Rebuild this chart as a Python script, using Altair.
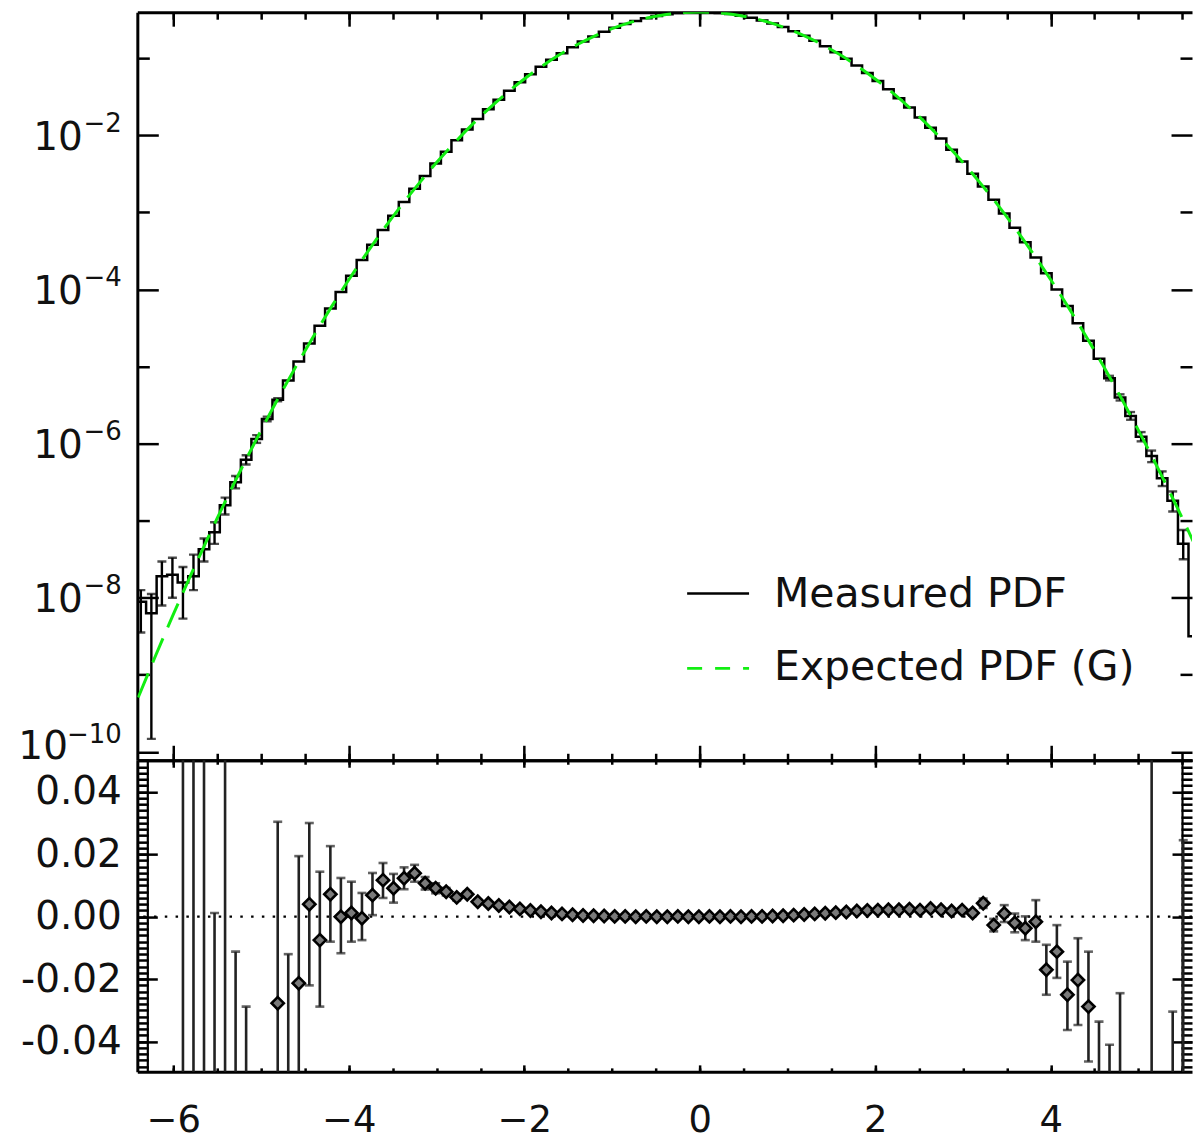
import altair as alt
import numpy as np
import pandas as pd

FONT = "DejaVu Sans"
GREEN = "#12ee12"

# ---------------- data ----------------
# histogram bin centres: start + width * i  (i = 0 .. 101)
BIN_START = -6.49
BIN_WIDTH = 0.12

# measured PDF, log10, bins k = -1 .. 100
measured_log = [
    -8.20, -8.05, -8.20, -7.72, -7.70, -7.80, -7.72, -7.37, -7.15, -6.80,
    -6.50, -6.21, -5.94, -5.68, -5.43, -5.18, -4.935, -4.70, -4.47, -4.248,
    -4.031, -3.822, -3.618, -3.420, -3.229, -3.044, -2.865, -2.693, -2.526, -2.366,
    -2.213, -2.065, -1.924, -1.789, -1.660, -1.538, -1.422, -1.312, -1.208, -1.110,
    -1.019, -0.934, -0.856, -0.783, -0.717, -0.657, -0.603, -0.556, -0.515, -0.480,
    -0.451, -0.429, -0.413, -0.403, -0.399, -0.402, -0.411, -0.426, -0.447, -0.475,
    -0.509, -0.549, -0.595, -0.648, -0.707, -0.772, -0.843, -0.921, -1.005, -1.095,
    -1.191, -1.294, -1.403, -1.518, -1.639, -1.767, -1.901, -2.041, -2.188, -2.340,
    -2.499, -2.665, -2.836, -3.014, -3.198, -3.388, -3.584, -3.790, -4.000, -4.215,
    -4.437, -4.665, -4.900, -5.150, -5.400, -5.640, -5.910, -6.160, -6.450, -6.740,
    -7.300, -8.500,
]

# error bars on the measured PDF (log10), by bin k
top_err_bin = [0, 1, 2, 3, 4, 5, 6, 7, 8, 9, 10, 11, 12, 13,
               92, 93, 94, 95, 96, 97, 98, 99]
top_err_lo = [-8.45, -9.83, -8.10, -8.00, -8.27, -7.90, -7.53, -7.30, -6.92, -6.58,
              -6.27, -5.99, -5.71, -5.45,
              -5.18, -5.44, -5.69, -5.97, -6.24, -6.55, -6.88, -7.50]
top_err_hi = [-7.90, -7.95, -7.53, -7.48, -7.60, -7.44, -7.23, -7.02, -6.70, -6.42,
              -6.15, -5.89, -5.65, -5.41,
              -5.12, -5.36, -5.59, -5.85, -6.09, -6.36, -6.62, -7.12]

# expected (Gaussian) PDF, log10
expected_x = [-6.4, -6.2, -6.0, -5.8, -5.6, -5.4, -5.2, -5.0, -4.8, -4.6, -4.4, -4.2,
              -4.0, -3.8, -3.6, -3.4, -3.2, -3.0, -2.8, -2.6, -2.4, -2.2, -2.0, -1.8,
              -1.6, -1.4, -1.2, -1.0, -0.8, -0.6, -0.4, -0.2, 0.0, 0.2, 0.4, 0.6,
              0.8, 1.0, 1.2, 1.4, 1.6, 1.8, 2.0, 2.2, 2.4, 2.6, 2.8, 3.0,
              3.2, 3.4, 3.6, 3.8, 4.0, 4.2, 4.4, 4.6, 4.8, 5.0, 5.2, 5.4, 5.6, 5.8]
expected_log = [-9.293, -8.746, -8.216, -7.704, -7.209, -6.731, -6.271, -5.828, -5.402,
                -4.994, -4.603, -4.229, -3.873, -3.535, -3.213, -2.909, -2.623, -2.353,
                -2.102, -1.867, -1.650, -1.450, -1.268, -1.103, -0.955, -0.825, -0.712,
                -0.616, -0.538, -0.477, -0.434, -0.408, -0.399, -0.408, -0.434, -0.477,
                -0.538, -0.616, -0.712, -0.825, -0.955, -1.103, -1.268, -1.450, -1.650,
                -1.867, -2.102, -2.353, -2.623, -2.909, -3.213, -3.535, -3.873, -4.229,
                -4.603, -4.994, -5.402, -5.828, -6.271, -6.731, -7.209, -7.704]

# residuals, bins k = 0 .. 100
res_val = [
    None, None, None, None,
    0.2, 0.1, -0.1, -0.09, 0.08, -0.08, -0.09,
    None, None,
    -0.0277, -0.07, -0.0213, 0.004, -0.0075, 0.0072, 0.0, 0.0012, -0.0005,
    0.0069, 0.0117, 0.0091, 0.0123, 0.0139, 0.0107, 0.0091, 0.008, 0.0062, 0.0072,
    0.0048, 0.0042, 0.0036, 0.0031, 0.0025, 0.0020, 0.0016, 0.0012, 0.0009, 0.0006,
    0.0004, 0.0003, 0.0002, 0.0001, 0.0001, 0.0, 0.0001, 0.0, 0.0, 0.0001,
    0.0, 0.0, 0.0001, 0.0, 0.0001, 0.0, 0.0001, 0.0001, 0.0002, 0.0003,
    0.0005, 0.0007, 0.0009, 0.0011, 0.0013, 0.0015, 0.0018, 0.0020, 0.0021, 0.0022,
    0.0022, 0.0024, 0.0021, 0.0026, 0.0022, 0.0018, 0.0021, 0.0012, 0.0043, -0.0027,
    0.0010, -0.0020, -0.0037, -0.0016, -0.017, -0.0112, -0.025, -0.0203, -0.0288, -0.07,
    -0.08, -0.075, None, None, 0.1, None, -0.1, -0.08, None,
]
res_err_bin = [4, 5, 6, 7, 8, 9, 10, 13, 14, 15, 16, 17, 18, 19, 20, 21, 22, 23, 24,
               25, 26, 27, 28, 29, 30, 31, 32, 33,
               79, 80, 81, 82, 83, 84, 85, 86, 87, 88, 89, 90, 91, 92, 93, 96, 98, 99]
res_err_lo = [-0.3, -0.4, -0.5, -0.2, -0.2, -0.15, -0.15, -0.086, -0.128, -0.062,
              -0.022, -0.0288, -0.008, -0.0117, -0.008, -0.0075, 0.0005, 0.006, 0.0045,
              0.0088, 0.0112, 0.0087, 0.0075, 0.0068, 0.0052, 0.0063, 0.0041, 0.0036,
              0.0004, 0.0028, -0.0047, -0.0017, -0.005, -0.0075, -0.008, -0.025, -0.0196,
              -0.0363, -0.0347, -0.0464, -0.11, -0.12, -0.125, -0.5, -0.2, -0.2]
res_err_hi = [0.7, 0.6, 0.3, 0.0012, 0.3, -0.0112, -0.0288, 0.0304, -0.012, 0.0194,
              0.030, 0.0144, 0.0226, 0.0124, 0.0112, 0.0076, 0.014, 0.0172, 0.0137,
              0.0158, 0.0166, 0.0127, 0.0107, 0.0092, 0.0072, 0.0081, 0.0055, 0.0048,
              0.002, 0.0058, -0.0007, 0.0037, 0.001, 0.0001, 0.0053, -0.009, -0.0027,
              -0.0144, -0.0069, -0.0112, -0.0336, -0.041, -0.0245, 0.5, -0.0304, 0.0245]

legend_labels = ["Measured PDF", "Expected PDF (G)"]

x_major = [-6, -4, -2, 0, 2, 4]
x_minor = [-6.0, -5.5, -5.0, -4.5, -4.0, -3.5, -3.0, -2.5, -2.0, -1.5, -1.0, -0.5,
           0.0, 0.5, 1.0, 1.5, 2.0, 2.5, 3.0, 3.5, 4.0, 4.5, 5.0, 5.5]
top_major = [1e-10, 1e-8, 1e-6, 1e-4, 1e-2]
top_minor = [1e-9, 1e-7, 1e-5, 1e-3, 1e-1]
top_exponents = ["−10", "−8", "−6", "−4", "−2"]
bot_major = [-0.04, -0.02, 0.0, 0.02, 0.04]
bot_minor = [round(-0.048 + 0.002 * i, 3) for i in range(50)]

# ---------------- frames ----------------
bin_x = np.round(BIN_START + BIN_WIDTH * np.arange(len(measured_log)), 3)
df_meas = pd.DataFrame({"x": bin_x, "meas": np.power(10.0, measured_log)})
df_exp = pd.DataFrame({"x": expected_x, "exp": np.power(10.0, expected_log)})
df_terr = pd.DataFrame({
    "x": [bin_x[k + 1] for k in top_err_bin],
    "lo": np.power(10.0, top_err_lo),
    "hi": np.power(10.0, top_err_hi),
})
df_res = pd.DataFrame({"x": bin_x[1:], "r": res_val}).dropna()
df_rerr = pd.DataFrame({
    "x": [bin_x[k + 1] for k in res_err_bin],
    "lo": res_err_lo,
    "hi": res_err_hi,
})

# ---------------- geometry ----------------
W, H_TOP, H_BOT = 1056, 749, 312
XDOM = [-6.41, 5.61]
xs = alt.Scale(domain=XDOM, nice=False, zero=False)
ys_top = alt.Scale(type="log", domain=[10 ** -10.108, 10 ** -0.402], nice=False)
ys_bot = alt.Scale(domain=[-0.0497, 0.0501], nice=False, zero=False)


def tick_axis(orient, offset, values, size, domain=False, dwidth=3):
    return alt.Axis(orient=orient, offset=offset, values=values, tickSize=size,
                    tickWidth=2.5, tickColor="black", labels=False, domain=domain,
                    domainWidth=dwidth, domainColor="black", grid=False, title=None)


def label_axis(values, expr, pad, size, offset=0, domain=False, extent=None):
    kw = {}
    if extent is not None:
        kw = {"minExtent": extent, "maxExtent": extent}
    return alt.Axis(orient="left", values=values, tickSize=0, labelPadding=pad,
                    labelFont=FONT, labelFontSize=size, labelColor="#111",
                    labelExpr=expr, labelOffset=offset, domain=domain, domainWidth=3,
                    domainColor="black", grid=False, title=None, labelFlush=False,
                    labelOverlap=False, **kw)


exp_expr = ("datum.value < 1e-7 ? '%s' : "
            "datum.value < 1e-5 ? '%s' : datum.value < 1e-3 ? '%s' : '%s'"
            % tuple(top_exponents[1:]))
sup_axis = label_axis(top_major[1:], exp_expr, 16, 26, offset=-12, domain=True, extent=130)
sup_axis10 = label_axis(top_major[:1], "'%s'" % top_exponents[0], 16, 26, offset=-17)
base_axis = label_axis(top_major[1:], "'10'", 55, 39, offset=2)
base_axis10 = label_axis(top_major[:1], "'10'", 70, 39, offset=-5)

bot_label_axis = label_axis(
    bot_major,
    "datum.value < -0.001 ? '-' + format(-datum.value, '.2f') : format(abs(datum.value), '.2f')",
    16, 39, domain=True, extent=130)
x_label_axis = alt.Axis(orient="bottom", values=x_major, format="d", tickSize=0,
                        labelPadding=31, labelFont=FONT, labelFontSize=37,
                        labelColor="#111", domain=True, domainWidth=3,
                        domainColor="black", grid=False, title=None, labelFlush=False,
                        labelOverlap=False)

# ---------------- top panel ----------------
meas_line = alt.Chart(df_meas).mark_line(
    interpolate="step", color="black", strokeWidth=2.5, clip=True
).encode(
    x=alt.X("x:Q", scale=xs, axis=tick_axis("top", -H_TOP, x_major, 15, domain=True)),
    y=alt.Y("meas:Q", scale=ys_top, axis=tick_axis("right", -W, top_major, 21)),
)
terr_rule = alt.Chart(df_terr).mark_rule(color="black", strokeWidth=2.4, clip=True).encode(
    x=alt.X("x:Q", scale=xs, axis=tick_axis("bottom", -H_TOP, x_minor, 7)),
    y=alt.Y("lo:Q", scale=ys_top, axis=tick_axis("right", -W, top_minor, 12)),
    y2="hi:Q",
)
terr_lo = alt.Chart(df_terr).mark_tick(
    orient="horizontal", color="black", size=9, thickness=2.4, clip=True
).encode(
    x=alt.X("x:Q", scale=xs, axis=tick_axis("top", -H_TOP, x_minor, 7)),
    y=alt.Y("lo:Q", scale=ys_top, axis=tick_axis("left", -W, top_major, 21)),
)
terr_hi = alt.Chart(df_terr).mark_tick(
    orient="horizontal", color="black", size=9, thickness=2.4, clip=True
).encode(
    x=alt.X("x:Q", scale=xs, axis=None),
    y=alt.Y("hi:Q", scale=ys_top, axis=tick_axis("left", -W, top_minor, 12)),
)
exp_line = alt.Chart(df_exp).mark_line(
    color=GREEN, strokeWidth=3, strokeDash=[26, 12], clip=True, interpolate="monotone"
).encode(
    x=alt.X("x:Q", scale=xs, axis=tick_axis("bottom", -H_TOP, x_major, 14, domain=True)),
    y=alt.Y("exp:Q", scale=ys_top, axis=sup_axis),
)
ghost_top1 = alt.Chart(df_exp).mark_point(opacity=0, size=1, clip=True).encode(
    x=alt.X("x:Q", scale=xs, axis=None),
    y=alt.Y("exp:Q", scale=ys_top, axis=base_axis),
)
ghost_top2 = alt.Chart(df_exp).mark_point(opacity=0, size=1, clip=True).encode(
    x=alt.X("x:Q", scale=xs, axis=None),
    y=alt.Y("exp:Q", scale=ys_top, axis=base_axis10),
)
ghost_top3 = alt.Chart(df_exp).mark_point(opacity=0, size=1, clip=True).encode(
    x=alt.X("x:Q", scale=xs, axis=None),
    y=alt.Y("exp:Q", scale=ys_top, axis=sup_axis10),
)

leg1_df = pd.DataFrame({"t": [legend_labels[0]]})
leg2_df = pd.DataFrame({"t": [legend_labels[1]]})
leg1_line = alt.Chart(leg1_df).mark_rule(color="black", strokeWidth=2.5).encode(
    x=alt.value(550.5), x2=alt.value(612.5), y=alt.value(582))
leg2_line = alt.Chart(leg2_df).mark_rule(color=GREEN, strokeWidth=3, strokeDash=[15, 13]).encode(
    x=alt.value(550.5), x2=alt.value(612.5), y=alt.value(657))
leg1_text = alt.Chart(leg1_df).mark_text(
    font=FONT, fontSize=41, color="#111", align="left", baseline="alphabetic"
).encode(text="t:N", x=alt.value(637.5), y=alt.value(596))
leg2_text = alt.Chart(leg2_df).mark_text(
    font=FONT, fontSize=41, color="#111", align="left", baseline="alphabetic"
).encode(text="t:N", x=alt.value(637.5), y=alt.value(669))

top = alt.layer(
    meas_line, terr_rule, terr_lo, terr_hi, exp_line, ghost_top1, ghost_top2, ghost_top3,
    leg1_line, leg2_line, leg1_text, leg2_text,
).resolve_axis(x="independent", y="independent").properties(width=W, height=H_TOP)

# ---------------- bottom panel ----------------
zero_line = alt.Chart(pd.DataFrame({"z": [0.0]})).mark_rule(
    color="black", strokeWidth=2.2, strokeDash=[2.5, 8.3]
).encode(y=alt.Y("z:Q", scale=ys_bot, axis=None))
rerr_rule = alt.Chart(df_rerr).mark_rule(color="#222", strokeWidth=2.6, clip=True).encode(
    x=alt.X("x:Q", scale=xs, axis=x_label_axis),
    y=alt.Y("lo:Q", scale=ys_bot, axis=bot_label_axis),
    y2="hi:Q",
)
rerr_lo = alt.Chart(df_rerr).mark_tick(
    orient="horizontal", color="#222", size=9, thickness=2.6, clip=True
).encode(
    x=alt.X("x:Q", scale=xs, axis=tick_axis("top", -H_BOT, x_major, 7)),
    y=alt.Y("lo:Q", scale=ys_bot, axis=tick_axis("right", -W, bot_major, 20)),
)
rerr_hi = alt.Chart(df_rerr).mark_tick(
    orient="horizontal", color="#222", size=9, thickness=2.6, clip=True
).encode(
    x=alt.X("x:Q", scale=xs, axis=tick_axis("top", -H_BOT, x_minor, 4)),
    y=alt.Y("hi:Q", scale=ys_bot, axis=tick_axis("right", -W, bot_minor, 11)),
)
diamonds = alt.Chart(df_res).mark_point(
    shape="diamond", filled=True, fill="#7a7a7a", stroke="black", strokeWidth=2.6,
    size=150, opacity=1, clip=True
).encode(
    x=alt.X("x:Q", scale=xs, axis=tick_axis("bottom", -H_BOT, x_major, 7, domain=True)),
    y=alt.Y("r:Q", scale=ys_bot, axis=tick_axis("left", -W, bot_major, 20)),
)
ghost = alt.Chart(df_res).mark_point(opacity=0, size=1, clip=True).encode(
    x=alt.X("x:Q", scale=xs, axis=tick_axis("bottom", -H_BOT, x_minor, 4)),
    y=alt.Y("r:Q", scale=ys_bot, axis=tick_axis("left", -W, bot_minor, 11)),
)
# inner rails of the dense minor-tick "ladders" on both sides
ladder_left = alt.Chart(df_res).mark_point(opacity=0, size=1, clip=True).encode(
    x=alt.X("x:Q", scale=xs, axis=None),
    y=alt.Y("r:Q", scale=ys_bot, axis=tick_axis("left", -10, [], 0, domain=True, dwidth=2.2)),
)
ladder_right = alt.Chart(df_res).mark_point(opacity=0, size=1, clip=True).encode(
    x=alt.X("x:Q", scale=xs, axis=None),
    y=alt.Y("r:Q", scale=ys_bot, axis=tick_axis("right", -10, [], 0, domain=True, dwidth=2.2)),
)

bottom = alt.layer(
    zero_line, rerr_rule, rerr_lo, rerr_hi, diamonds, ghost, ladder_left, ladder_right
).resolve_axis(x="independent", y="independent").properties(width=W, height=H_BOT)

chart = alt.vconcat(top, bottom, spacing=0, bounds="flush").properties(
    padding={"left": 7.5, "top": 9.5, "right": 0, "bottom": 0},
    background="white",
).configure_view(stroke=None).configure_axis(grid=False)

chart.save("out.html", embed_options={"renderer": "svg", "actions": False})
